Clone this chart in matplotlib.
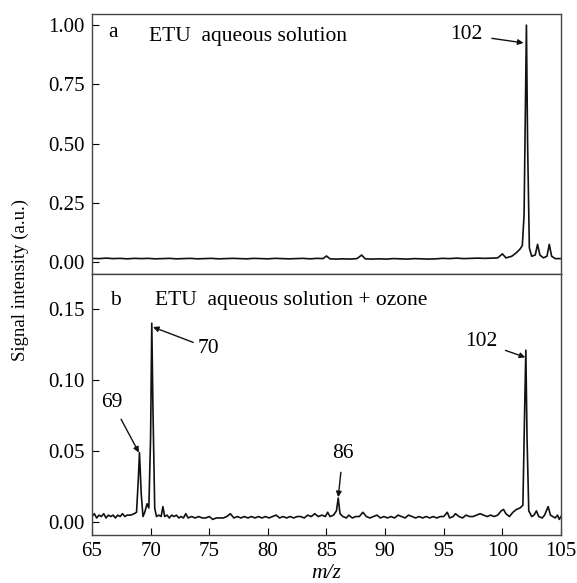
import matplotlib.pyplot as plt

# ------------------------------
# Data
# ------------------------------
top_mz = [65.0, 65.6, 66.2, 66.8, 67.4, 68.0, 68.6, 69.2, 69.8, 70.4, 71.0, 71.6, 72.2, 72.8,
          73.4, 74.0, 74.6, 75.2, 75.8, 76.4, 77.0, 77.6, 78.2, 78.8, 79.4, 80.0, 80.6, 81.2,
          81.8, 82.4, 83.0, 83.6, 84.2, 84.7, 85.0, 85.3, 85.8, 86.4, 87.0, 87.6, 88.0, 88.3,
          88.9, 89.5, 90.1, 90.7, 91.3, 91.9, 92.5, 93.1, 93.7, 94.3, 94.9, 95.5, 96.1, 96.7,
          97.3, 97.9, 98.5, 99.1, 99.6, 100.0, 100.3, 100.8, 101.2, 101.5, 101.7, 101.85,
          101.95, 102.05, 102.15, 102.3, 102.5, 102.8, 103.0, 103.2, 103.5, 103.8, 104.0,
          104.2, 104.5, 105.0]
top_int = [0.016, 0.015, 0.017, 0.015, 0.016, 0.014, 0.016, 0.015, 0.016, 0.014, 0.015, 0.016,
           0.014, 0.015, 0.016, 0.014, 0.015, 0.016, 0.014, 0.015, 0.016, 0.015, 0.014, 0.016,
           0.015, 0.014, 0.016, 0.015, 0.014, 0.015, 0.016, 0.014, 0.016, 0.015, 0.026, 0.014,
           0.013, 0.014, 0.013, 0.015, 0.030, 0.014, 0.013, 0.014, 0.013, 0.015, 0.014, 0.013,
           0.015, 0.014, 0.013, 0.014, 0.016, 0.015, 0.017, 0.015, 0.016, 0.017, 0.016, 0.017,
           0.018, 0.035, 0.018, 0.025, 0.040, 0.055, 0.070, 0.20, 0.60, 1.00, 0.50, 0.060,
           0.025, 0.030, 0.075, 0.030, 0.018, 0.025, 0.075, 0.025, 0.015, 0.015]

bot_mz = [65.0, 65.2, 65.4, 65.6, 65.8, 66.0, 66.2, 66.4, 66.6, 66.8, 67.0, 67.2, 67.4, 67.6,
          67.8, 68.0, 68.3, 68.6, 68.8, 68.95, 69.05, 69.2, 69.35, 69.5, 69.7, 69.85, 70.0,
          70.1, 70.2, 70.35, 70.5, 70.7, 70.9, 71.05, 71.2, 71.4, 71.6, 71.8, 72.0, 72.2, 72.4,
          72.6, 72.8, 73.0, 73.2, 73.5, 73.8, 74.1, 74.4, 74.7, 75.0, 75.3, 75.6, 75.9, 76.2,
          76.5, 76.8, 77.1, 77.4, 77.7, 78.0, 78.3, 78.6, 78.9, 79.2, 79.5, 79.8, 80.1, 80.4,
          80.7, 81.0, 81.3, 81.6, 81.9, 82.2, 82.5, 82.8, 83.1, 83.4, 83.7, 84.0, 84.3, 84.6,
          84.9, 85.1, 85.3, 85.6, 85.85, 86.0, 86.15, 86.4, 86.7, 86.9, 87.2, 87.5, 87.8, 88.1,
          88.4, 88.7, 89.0, 89.3, 89.6, 89.9, 90.2, 90.5, 90.8, 91.1, 91.4, 91.7, 92.0, 92.3,
          92.6, 92.9, 93.2, 93.5, 93.8, 94.1, 94.4, 94.7, 95.0, 95.3, 95.5, 95.8, 96.0, 96.3,
          96.6, 96.9, 97.2, 97.5, 97.8, 98.1, 98.4, 98.7, 99.0, 99.3, 99.6, 99.9, 100.1, 100.3,
          100.6, 100.9, 101.2, 101.5, 101.75, 101.9, 102.0, 102.1, 102.25, 102.5, 102.7, 102.9,
          103.1, 103.4, 103.6, 103.9, 104.1, 104.3, 104.5, 104.7, 104.85, 105.0]
bot_int = [0.004, 0.006, 0.003, 0.005, 0.004, 0.006, 0.003, 0.005, 0.004, 0.005, 0.003, 0.005,
           0.004, 0.006, 0.004, 0.005, 0.005, 0.006, 0.007, 0.030, 0.049, 0.020, 0.004, 0.007,
           0.013, 0.010, 0.060, 0.140, 0.080, 0.010, 0.004, 0.005, 0.004, 0.011, 0.004, 0.005,
           0.003, 0.005, 0.004, 0.005, 0.003, 0.004, 0.003, 0.006, 0.003, 0.004, 0.003, 0.004,
           0.003, 0.003, 0.004, 0.002, 0.003, 0.003, 0.003, 0.004, 0.006, 0.003, 0.004, 0.003,
           0.004, 0.003, 0.004, 0.003, 0.004, 0.003, 0.004, 0.003, 0.004, 0.005, 0.003, 0.004,
           0.003, 0.004, 0.003, 0.004, 0.004, 0.003, 0.005, 0.004, 0.006, 0.004, 0.005, 0.004,
           0.007, 0.004, 0.005, 0.008, 0.017, 0.006, 0.004, 0.003, 0.005, 0.003, 0.004, 0.004,
           0.007, 0.004, 0.003, 0.004, 0.005, 0.003, 0.004, 0.003, 0.004, 0.003, 0.005, 0.004,
           0.003, 0.005, 0.004, 0.003, 0.004, 0.003, 0.004, 0.003, 0.004, 0.003, 0.004, 0.004,
           0.007, 0.003, 0.004, 0.006, 0.004, 0.003, 0.005, 0.004, 0.004, 0.005, 0.006, 0.005,
           0.004, 0.005, 0.004, 0.005, 0.008, 0.009, 0.006, 0.004, 0.007, 0.009, 0.010, 0.012,
           0.080, 0.121, 0.060, 0.008, 0.004, 0.005, 0.008, 0.004, 0.003, 0.005, 0.011, 0.005,
           0.004, 0.003, 0.005, 0.002, 0.004]

x_ticks = [65, 70, 75, 80, 85, 90, 95, 100, 105]
top_yticks = [0.00, 0.25, 0.50, 0.75, 1.00]
bot_yticks = [0.00, 0.05, 0.10, 0.15]

# ------------------------------
# Style
# ------------------------------
plt.rcParams["font.family"] = ["Liberation Serif", "DejaVu Serif"]
plt.rcParams["font.size"] = 15.5
plt.rcParams["axes.edgecolor"] = "#444444"
plt.rcParams["axes.linewidth"] = 1.0

fig = plt.figure(figsize=(5.77, 5.83), dpi=100)
ax1 = fig.add_axes([0.1594, 0.530, 0.8129, 0.446])
ax2 = fig.add_axes([0.1594, 0.0823, 0.8129, 0.4477], sharex=ax1)

line_kw = dict(color="#111111", lw=1.2)
tick_fs = 15
arrow = dict(arrowstyle="-|>", color="#111111", lw=1.0, mutation_scale=8, shrinkB=0)

# ------------------------------
# Panel a
# ------------------------------
ax1.plot(top_mz, top_int, **line_kw)
ax1.set_xlim(65, 105)
ax1.set_ylim(-0.05, 1.047)
ax1.set_yticks(top_yticks)
ax1.set_yticklabels([f"{v:.2f}" for v in top_yticks])
ax1.tick_params(axis="y", direction="in", length=5, pad=5, labelsize=tick_fs)
ax1.tick_params(axis="x", bottom=False, labelbottom=False)
ax1.text(66.8, 0.97, "a", ha="center", va="center")
ax1.text(69.9, 0.95, "ETU  aqueous solution", ha="left", va="center")
ax1.annotate("102", xy=(101.8, 0.925), xytext=(96.9, 0.96),
             ha="center", va="center", arrowprops=dict(arrow, shrinkA=5))

# ------------------------------
# Panel b
# ------------------------------
ax2.plot(bot_mz, bot_int, **line_kw)
ax2.set_xlim(65, 105)
ax2.set_ylim(-0.009, 0.1746)
ax2.set_xticks(x_ticks)
ax2.set_yticks(bot_yticks)
ax2.set_yticklabels([f"{v:.2f}" for v in bot_yticks])
ax2.tick_params(axis="both", direction="in", length=5, pad=5, labelsize=tick_fs)
ax2.text(67.0, 0.156, "b", ha="center", va="center")
ax2.text(70.4, 0.156, "ETU  aqueous solution + ozone", ha="left", va="center")

ax2.annotate("70", xy=(70.2, 0.1373), xytext=(74.9, 0.1225),
             ha="center", va="center", arrowprops=dict(arrow, shrinkA=1))
ax2.annotate("69", xy=(69.0, 0.049), xytext=(66.7, 0.0845),
             ha="center", va="center", arrowprops=dict(arrow, shrinkA=4))
ax2.annotate("86", xy=(86.0, 0.0176), xytext=(86.4, 0.0486),
             ha="center", va="center", arrowprops=dict(arrow, shrinkA=5))
ax2.annotate("102", xy=(101.95, 0.116), xytext=(98.2, 0.1268),
             ha="center", va="center", arrowprops=dict(arrow, shrinkA=4))

ax2.set_xlabel("m/z", style="italic", labelpad=2)
fig.text(0.035, 0.52, "Signal intensity (a.u.)", rotation=90, ha="center", va="center",
         fontsize=13.5)

fig.savefig("out.png", dpi=100)
